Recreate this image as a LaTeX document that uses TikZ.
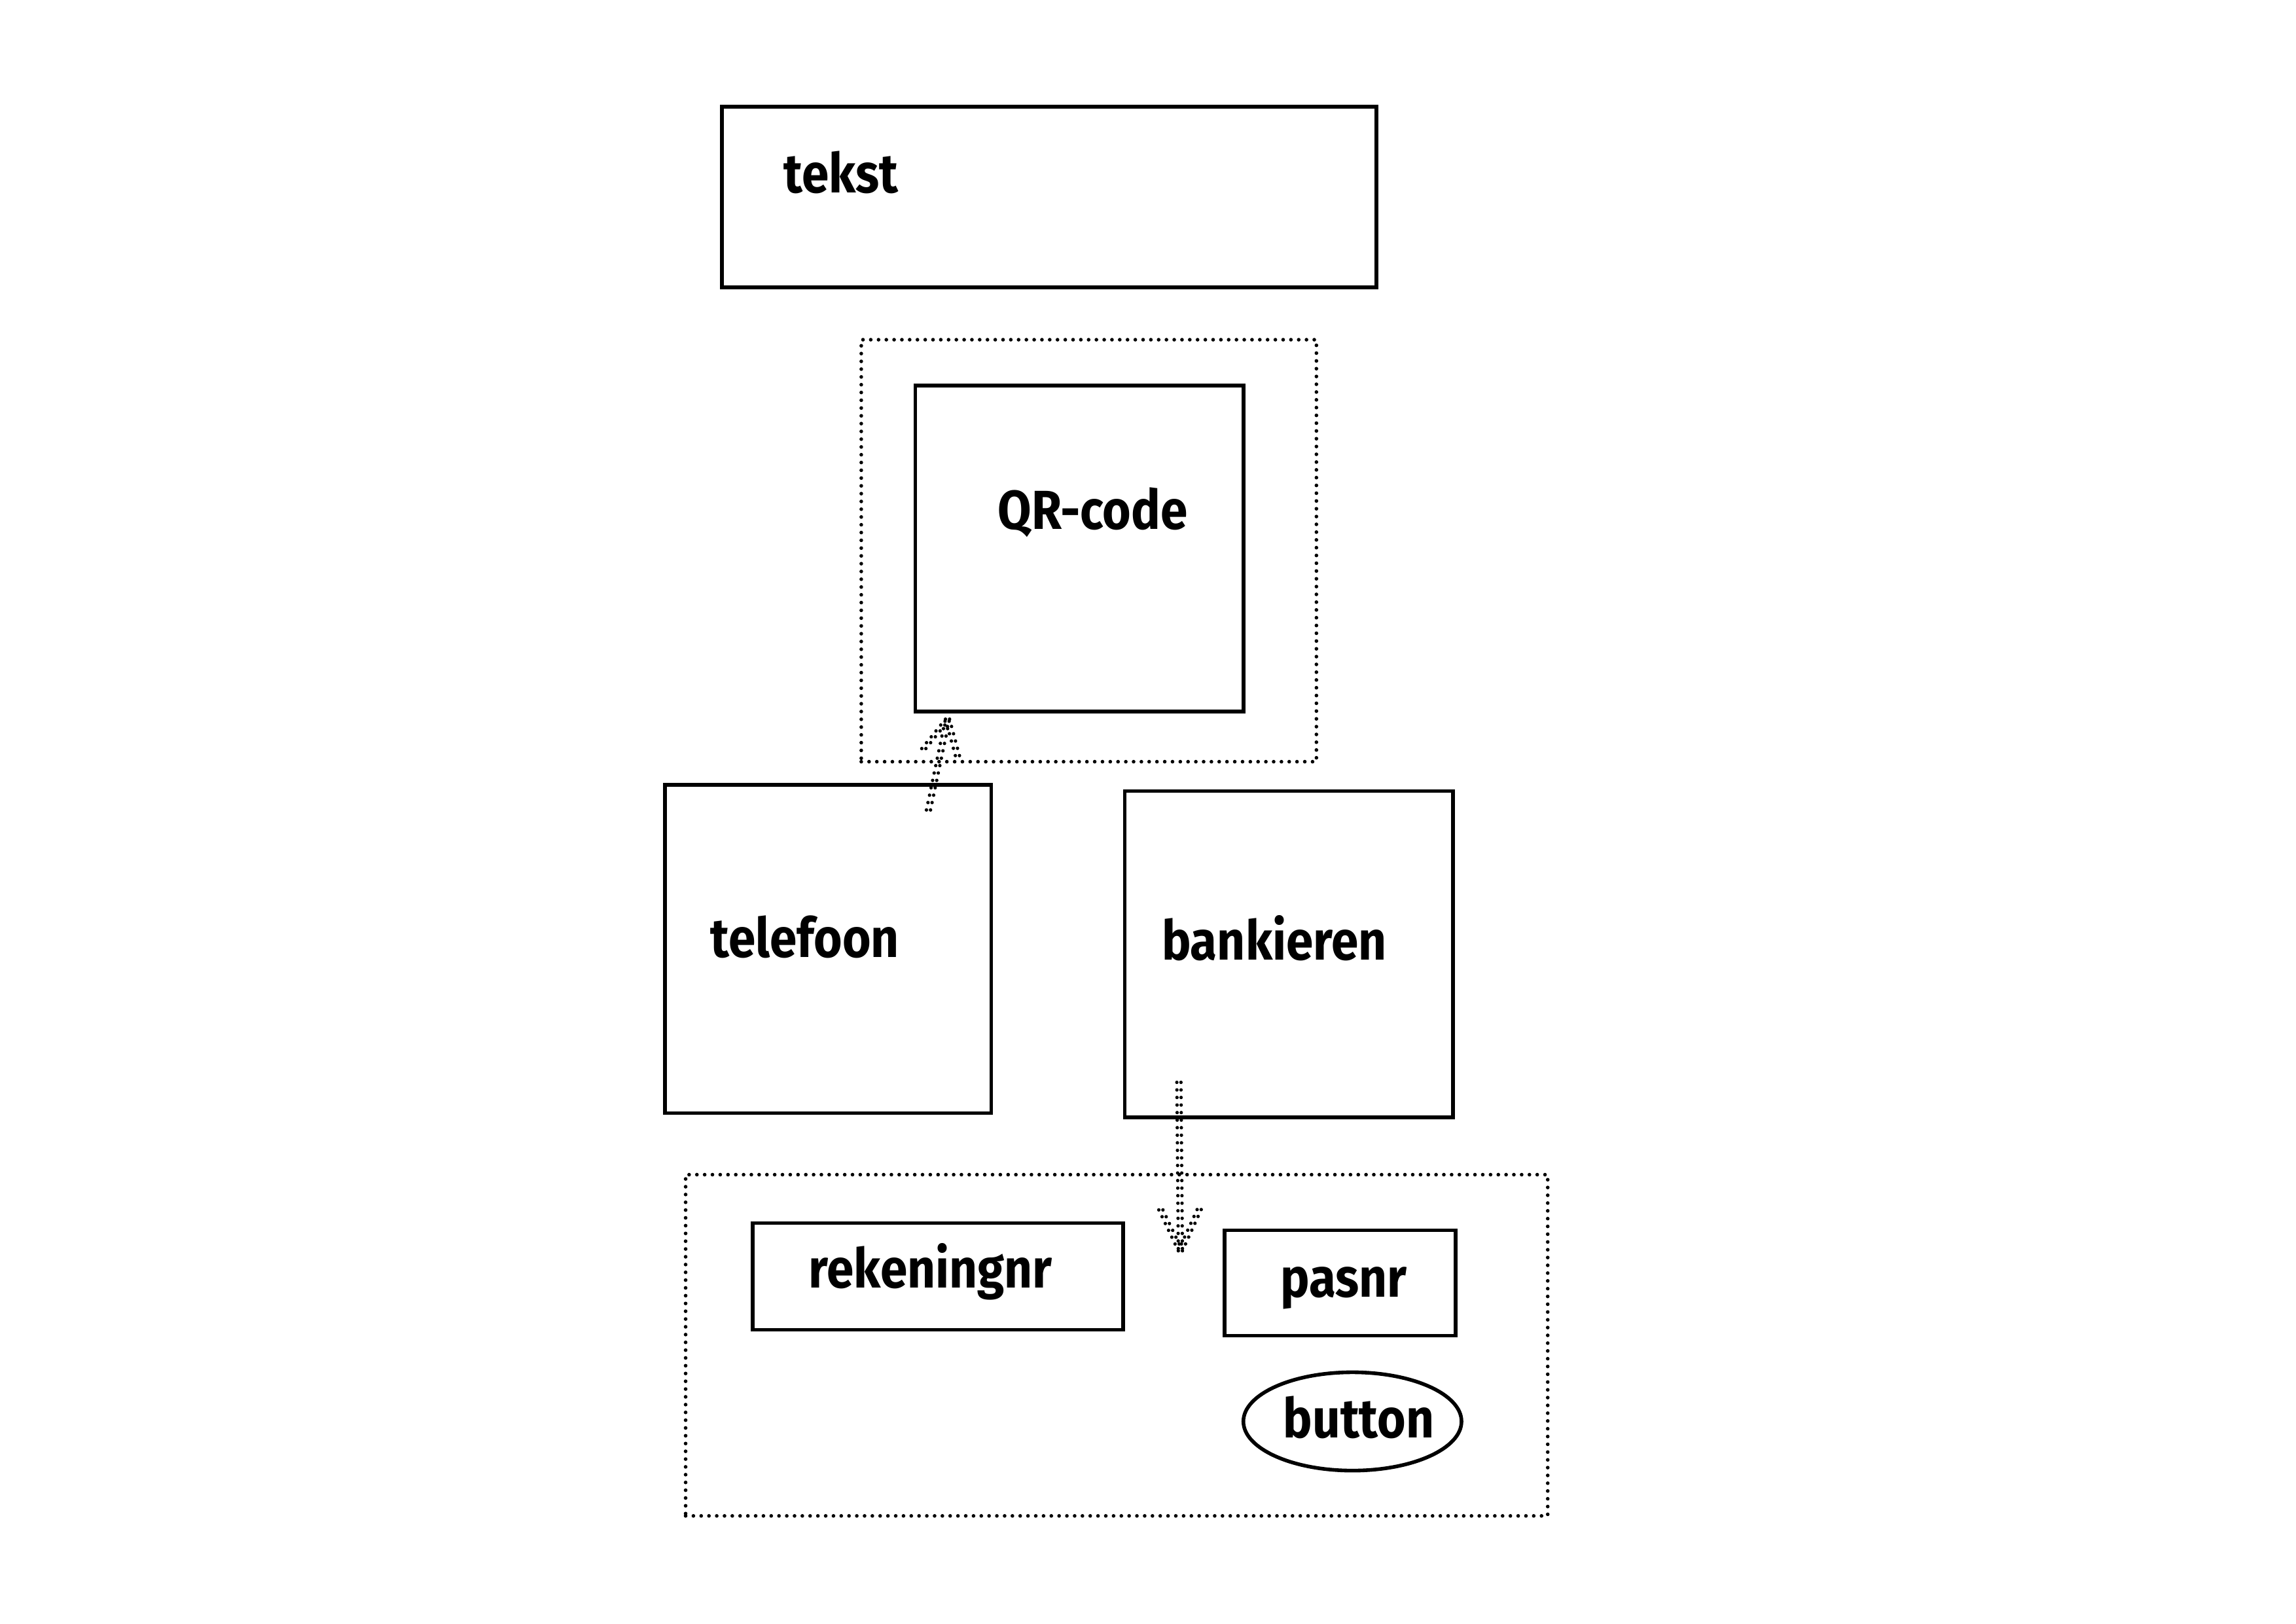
\documentclass[tikz,border=0pt]{standalone}
\usepackage{fontspec}
\newfontfamily\lblfont{Fira Sans}[FakeStretch=0.89]
\usetikzlibrary{shapes.geometric,calc}
\begin{document}
\begin{tikzpicture}[x=0.022487cm, y=-0.022487cm,
  box/.style={draw, line width=1.6pt, inner sep=0pt, minimum width=#1},
  dotbox/.style={draw, line width=1.6pt, line cap=round, dash pattern=on 0pt off 3.4pt, inner sep=0pt, minimum width=#1},
  arrowdots/.style={line width=1.5pt, line cap=round, dash pattern=on 0pt off 3.3pt},
  lbl/.style={anchor=base west, inner sep=0pt, font=\lblfont\bfseries\fontsize{24}{28}\selectfont}]
\useasboundingbox (0,0) rectangle (1567.8,1108.5);
% boxes
\node[box=10.05cm, minimum height=2.77cm] (tekst) at (716.5,134.5) {};
\node[dotbox=6.99cm, minimum height=6.48cm] (qrgroup) at (743.5,376) {};
\node[box=5.04cm, minimum height=5.01cm] (qr) at (737,374.5) {};
\node[box=5.01cm, minimum height=5.04cm] (telefoon) at (565.5,648) {};
\node[box=5.04cm, minimum height=5.01cm] (bankieren) at (880,651.5) {};
\node[dotbox=13.24cm, minimum height=5.24cm] (formgroup) at (762.5,918.5) {};
\node[box=5.69cm, minimum height=1.64cm] (rekeningnr) at (640.5,871.5) {};
\node[box=3.55cm, minimum height=1.62cm] (pasnr) at (915,876) {};
\node[draw, line width=1.6pt, ellipse, inner sep=0pt, minimum width=3.35cm, minimum height=1.51cm] (button) at (923.5,970.5) {};
% labels
\node[lbl] (tekstlbl) at (535,131.5) {tekst};
\node[lbl] (qrlbl) at (681,361.5) {QR-code};
\node[lbl] (telefoonlbl) at (485,653.5) {telefoon};
\node[lbl] (bankierenlbl) at (793,655.5) {bankieren};
\node[lbl] (rekeningnrlbl) at (552,879.5) {rekeningnr};
\node[lbl] (pasnrlbl) at (874,885.5) {pasnr};
\node[lbl] (buttonlbl) at (876,981.5) {button};
% arrows
\coordinate (a1s) at (634,553);
\coordinate (a1e) at (647,491);
\coordinate (a2s) at (805,739);
\coordinate (a2e) at (806,854);
\foreach \s in {-0.9pt,0.9pt}{
  \draw[arrowdots, transform canvas={xshift=\s}] (a1s) -- (a1e)
     (a1e) -- ($(a1e)!0.63cm!27:(a1s)$)
     (a1e) -- ($(a1e)!0.63cm!-27:(a1s)$);
  \draw[arrowdots, transform canvas={xshift=\s}] (a2s) -- (a2e)
     (a2e) -- ($(a2e)!0.7cm!25:(a2s)$)
     (a2e) -- ($(a2e)!0.7cm!-25:(a2s)$);
}
\end{tikzpicture}
\end{document}
